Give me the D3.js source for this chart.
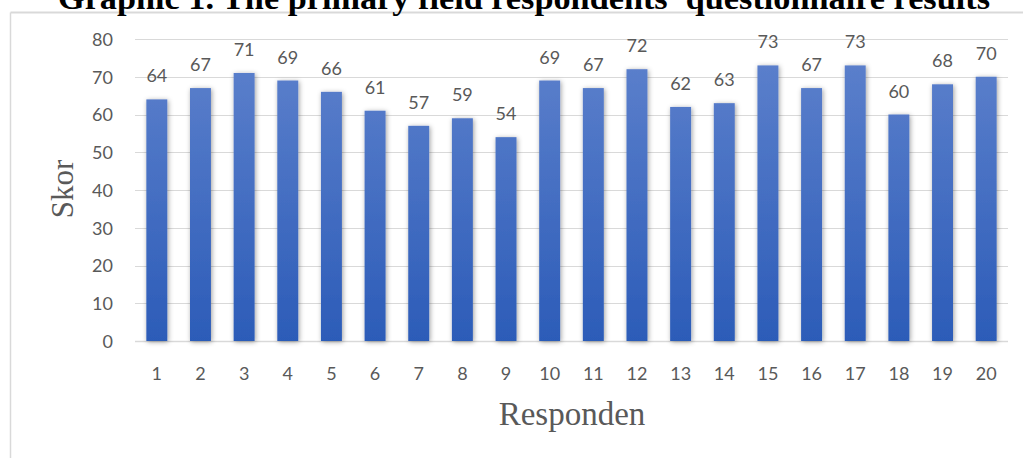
<!DOCTYPE html>
<html>
<head>
<meta charset="utf-8">
<script src="https://cdn.jsdelivr.net/npm/d3@7"></script>
<style>
  html, body { margin: 0; padding: 0; background: #ffffff; }
  svg { display: block; }
</style>
</head>
<body>
<svg id="chart" width="1023" height="458"></svg>
<script>
// Questionnaire scores per respondent
const respondents = ["1","2","3","4","5","6","7","8","9","10","11","12","13","14","15","16","17","18","19","20"];
const scores = [64, 67, 71, 69, 66, 61, 57, 59, 54, 69, 67, 72, 62, 63, 73, 67, 73, 60, 68, 70];
const yTicks = [0, 10, 20, 30, 40, 50, 60, 70, 80];

const titleText = "Graphic 1. The primary field respondents' questionnaire results";
const yTitle = "Skor";
const xTitle = "Responden";

const svg = d3.select("#chart");
const W = 1023, H = 458;
const plot = { left: 135, right: 1008, top: 39, bottom: 341 };

const x = d3.scaleBand().domain(respondents).range([plot.left, plot.right]).paddingInner(0.52).paddingOuter(0.26);
const y = d3.scaleLinear().domain([0, 80]).range([plot.bottom, plot.top]);

const defs = svg.append("defs");
const grad = defs.append("linearGradient").attr("id", "barFill")
  .attr("gradientUnits", "userSpaceOnUse")
  .attr("x1", 0).attr("x2", 0).attr("y1", y(80)).attr("y2", y(0));
grad.append("stop").attr("offset", "0%").attr("stop-color", "#5f82cd");
grad.append("stop").attr("offset", "100%").attr("stop-color", "#2c5cb8");

const shadow = defs.append("filter").attr("id", "barShadow")
  .attr("x", "-60%").attr("y", "-10%").attr("width", "220%").attr("height", "120%");
shadow.append("feDropShadow").attr("dx", 1).attr("dy", 1).attr("stdDeviation", 2.6)
  .attr("flood-color", "#000").attr("flood-opacity", 0.38);

// Chart frame
svg.append("line").attr("x1", 10.5).attr("x2", W).attr("y1", 12.5).attr("y2", 12.5)
  .attr("stroke", "#d9d9d9").attr("stroke-width", 2);
svg.append("line").attr("x1", 10.5).attr("x2", 10.5).attr("y1", 12.5).attr("y2", H)
  .attr("stroke", "#d9d9d9").attr("stroke-width", 1.5);

// Title (sits above the frame)
svg.append("text").attr("x", 58).attr("y", 9)
  .attr("font-family", "'Liberation Serif', 'Times New Roman', serif")
  .attr("font-weight", "bold").attr("font-size", 32).attr("fill", "#000")
  .attr("textLength", 932).attr("lengthAdjust", "spacingAndGlyphs")
  .text(titleText);

// Gridlines
svg.append("g").selectAll("line").data(yTicks).join("line")
  .attr("x1", plot.left).attr("x2", plot.right)
  .attr("y1", d => Math.round(y(d)) + 0.5).attr("y2", d => Math.round(y(d)) + 0.5)
  .attr("stroke", "#d9d9d9").attr("stroke-width", d => d === 0 ? 1.5 : 1.2);

// Y axis labels
const yAxis = d3.axisLeft(y).tickValues(yTicks).tickSize(0).tickPadding(0);
const gy = svg.append("g").attr("transform", `translate(113,0)`).call(yAxis);
gy.select(".domain").remove();
gy.selectAll("text").attr("font-family", "Lato, 'Open Sans', sans-serif")
  .attr("font-size", 18).attr("fill", "#595959").attr("dy", "0.35em");

// X axis labels
const xAxis = d3.axisBottom(x).tickSize(0).tickPadding(0);
const gx = svg.append("g").attr("transform", `translate(0,${plot.bottom})`).call(xAxis);
gx.select(".domain").remove();
gx.selectAll("text").attr("font-family", "Lato, 'Open Sans', sans-serif")
  .attr("font-size", 18).attr("fill", "#595959").attr("y", 39).attr("dy", 0);

// Bars
svg.append("g").selectAll("rect").data(scores).join("rect")
  .attr("x", (d, i) => x(respondents[i]))
  .attr("width", x.bandwidth())
  .attr("y", d => y(d))
  .attr("height", d => y(0) - y(d))
  .attr("fill", "url(#barFill)")
  .attr("filter", "url(#barShadow)");

// Value labels
svg.append("g").selectAll("text").data(scores).join("text")
  .attr("x", (d, i) => x(respondents[i]) + x.bandwidth() / 2)
  .attr("y", d => y(d) - 17)
  .attr("text-anchor", "middle")
  .attr("font-family", "Lato, 'Open Sans', sans-serif")
  .attr("font-size", 18).attr("fill", "#595959")
  .text(d => d);

// Axis titles
svg.append("text")
  .attr("transform", "translate(73,189) rotate(-90)")
  .attr("text-anchor", "middle")
  .attr("font-family", "'Liberation Serif', 'Times New Roman', serif")
  .attr("font-size", 31).attr("fill", "#595959")
  .text(yTitle);

svg.append("text").attr("x", 572).attr("y", 425)
  .attr("text-anchor", "middle")
  .attr("font-family", "'Liberation Serif', 'Times New Roman', serif")
  .attr("font-size", 33).attr("fill", "#595959")
  .text(xTitle);
</script>
</body>
</html>
